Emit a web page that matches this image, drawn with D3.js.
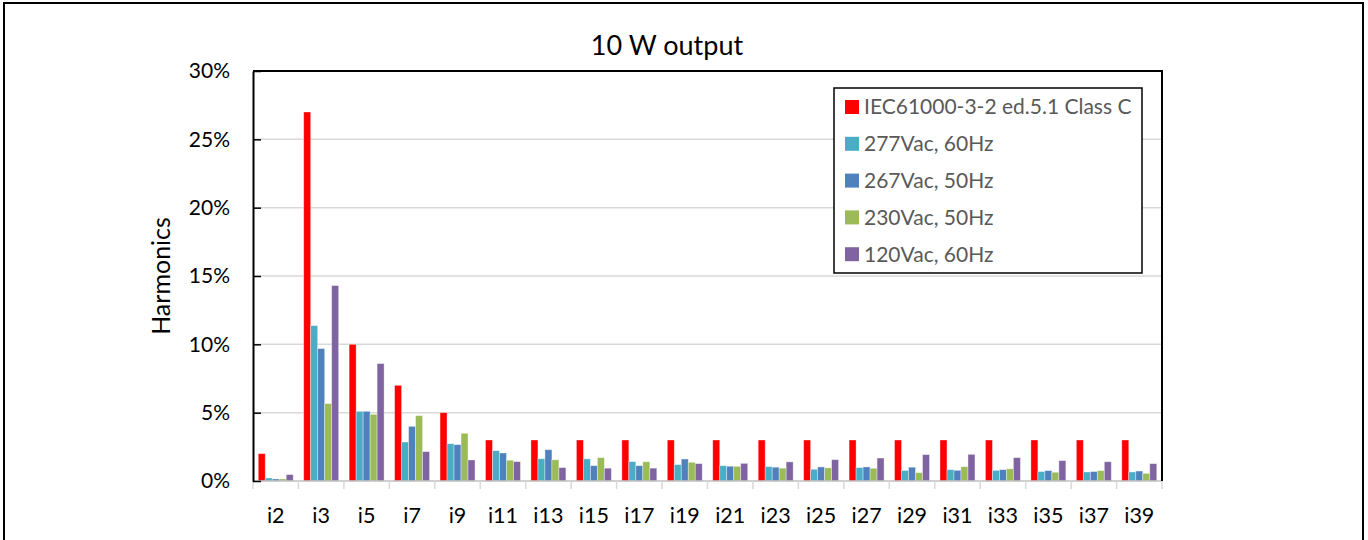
<!DOCTYPE html>
<html>
<head>
<meta charset="utf-8">
<script src="https://cdn.jsdelivr.net/npm/d3@7/dist/d3.min.js"></script>
<style>
  html, body { margin: 0; padding: 0; background: #fff; }
  svg { display: block; font-family: Lato, "Open Sans", sans-serif; }
</style>
</head>
<body>
<svg id="chart" width="1368" height="540"></svg>
<script>
// ---- data ----
const categories = ["i2","i3","i5","i7","i9","i11","i13","i15","i17","i19","i21","i23","i25","i27","i29","i31","i33","i35","i37","i39"];
const seriesNames = ["IEC61000-3-2 ed.5.1 Class C","277Vac, 60Hz","267Vac, 50Hz","230Vac, 50Hz","120Vac, 60Hz"];
const seriesColors = ["#FF0000","#4BACC6","#4F81BD","#9BBB59","#8064A2"];
const iecLimit  = [2.0,27.0,10.0,7.0,5.0,3.0,3.0,3.0,3.0,3.0,3.0,3.0,3.0,3.0,3.0,3.0,3.0,3.0,3.0,3.0];
const v277_60   = [0.22,11.37,5.10,2.85,2.73,2.22,1.63,1.62,1.42,1.20,1.12,1.05,0.86,0.98,0.77,0.83,0.78,0.69,0.66,0.66];
const v267_50   = [0.15,9.69,5.10,4.00,2.66,2.05,2.29,1.12,1.12,1.61,1.08,1.01,1.03,1.03,1.01,0.78,0.83,0.76,0.69,0.73];
const v230_50   = [0.15,5.66,4.88,4.78,3.49,1.52,1.55,1.71,1.41,1.37,1.07,0.94,0.96,0.93,0.61,1.05,0.89,0.64,0.76,0.56];
const v120_60   = [0.47,14.30,8.59,2.15,1.54,1.42,0.98,0.94,0.94,1.27,1.29,1.40,1.56,1.68,1.93,1.95,1.71,1.49,1.41,1.27];
const seriesValues = [iecLimit, v277_60, v267_50, v230_50, v120_60];
const yTicks = [0,5,10,15,20,25,30];
const titleText = "10 W output";
const yTitle = "Harmonics";

// ---- layout ----
const svg = d3.select("#chart");
const L = 253, R = 1162, T = 71, B = 481;

// outer frame
svg.append("rect").attr("x",4).attr("y",3).attr("width",1359).attr("height",560)
  .attr("fill","#fff").attr("stroke","#000").attr("stroke-width",2);

const x = d3.scaleBand().domain(categories).range([L,R]).paddingInner(0).paddingOuter(0);
const xs = d3.scaleBand().domain(d3.range(seriesNames.length)).range([0,x.bandwidth()]).paddingInner(0).paddingOuter(0.75);
const y = d3.scaleLinear().domain([0,30]).range([B,T]);

// gridlines
svg.append("g").selectAll("line").data(yTicks.filter(d => d>0 && d<30)).join("line")
  .attr("x1",L).attr("x2",R).attr("y1",d=>y(d)).attr("y2",d=>y(d))
  .attr("stroke","#D9D9D9").attr("stroke-width",1.5);

// bars
const rows = categories.map((c,i) => ({c, vals: seriesValues.map(s => s[i])}));
const g = svg.append("g").selectAll("g").data(rows).join("g")
  .attr("transform", d => `translate(${x(d.c)},0)`);
g.selectAll("rect").data(d => d.vals.map((v,k)=>({v,k}))).join("rect")
  .attr("x", d => xs(d.k)).attr("width", xs.bandwidth())
  .attr("y", d => y(d.v)).attr("height", d => B - y(d.v))
  .attr("fill", d => seriesColors[d.k])
  .attr("stroke","rgba(255,255,255,0.45)").attr("stroke-width",0.8);

// x axis (baseline and category ticks)
const xAxis = d3.axisBottom(x).tickSize(0).tickPadding(0).tickFormat("");
const gx = svg.append("g").attr("transform",`translate(0,${B})`).call(xAxis);
gx.select(".domain").remove();
svg.append("line").attr("x1",L).attr("x2",R).attr("y1",B).attr("y2",B)
  .attr("stroke","#BFBFBF").attr("stroke-width",1.5);
svg.append("g").selectAll("line").data(d3.range(categories.length+1)).join("line")
  .attr("x1",i => L + i*x.step()).attr("x2",i => L + i*x.step())
  .attr("y1",B).attr("y2",B+8).attr("stroke","#D9D9D9").attr("stroke-width",1.5);
svg.append("g").selectAll("text").data(categories).join("text")
  .attr("x", d => x(d) + x.bandwidth()/2).attr("y", 523)
  .attr("text-anchor","middle").attr("font-size",21.5).attr("fill","#000")
  .text(d => d);

// y axis
const yAxis = d3.axisLeft(y).tickValues(yTicks).tickSizeInner(-8).tickSizeOuter(0)
  .tickPadding(23).tickFormat(d => d + "%");
const gy = svg.append("g").attr("transform",`translate(${L},0)`).call(yAxis);
gy.select(".domain").attr("stroke","#000").attr("stroke-width",2);
gy.selectAll(".tick line").attr("stroke","#000").attr("stroke-width",1.5);
gy.selectAll(".tick text").attr("font-size",21).attr("fill","#000")
  .attr("font-family","Lato, sans-serif").attr("x",-23);

// plot top and right border
svg.append("path").attr("d",`M${L},${T}H${R}V${B}`).attr("fill","none")
  .attr("stroke","#000").attr("stroke-width",2);

// titles
svg.append("text").attr("x",667).attr("y",55).attr("text-anchor","middle")
  .attr("font-size",27).attr("fill","#000").text(titleText);
svg.append("text").attr("transform",`translate(170,${(T+B)/2}) rotate(-90)`)
  .attr("text-anchor","middle").attr("font-size",25).attr("fill","#000").text(yTitle);

// legend
const lg = svg.append("g");
lg.append("rect").attr("x",834).attr("y",88).attr("width",308).attr("height",185)
  .attr("fill","#fff").attr("stroke","#000").attr("stroke-width",1.5);
const rowsY = d3.range(seriesNames.length).map(i => 107 + i*36.8);
const li = lg.selectAll("g.li").data(seriesNames).join("g").attr("class","li")
  .attr("transform",(d,i)=>`translate(845,${rowsY[i]})`);
li.append("rect").attr("x",0).attr("y",-7).attr("width",14).attr("height",14)
  .attr("fill",(d,i)=>seriesColors[i]);
li.append("text").attr("x",19).attr("y",0).attr("dy","0.35em")
  .attr("font-size",21).attr("fill","#595959").text(d=>d);
</script>
</body>
</html>
